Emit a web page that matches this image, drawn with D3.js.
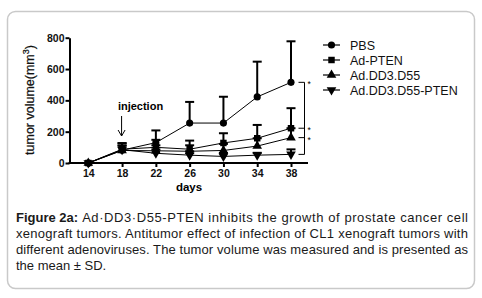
<!DOCTYPE html>
<html lang="en">
<head>
<meta charset="UTF-8">
<title>Figure 2a</title>
<script src="https://d3js.org/d3.v7.min.js"></script>
<style>
  body { margin: 0; background: #fff; }
</style>
</head>
<body>
<svg id="chart" width="482" height="298"></svg>
<script>
const days = [14, 18, 22, 26, 30, 34, 38];
const seriesNames = ["PBS", "Ad-PTEN", "Ad.DD3.D55", "Ad.DD3.D55-PTEN"];
const pbs = [0, 82, 130, 255, 255, 422, 515];
const pbsSD = [0, 45, 78, 135, 168, 225, 262];
const adPten = [0, 88, 100, 88, 128, 158, 222];
const adPtenSD = [0, 38, 48, 55, 62, 85, 128];
const dd3 = [0, 80, 78, 75, 80, 108, 162];
const dd3SD = [0, 32, 35, 38, 42, 50, 60];
const dd3Pten = [0, 85, 62, 50, 42, 50, 55];
const dd3PtenSD = [0, 25, 25, 25, 22, 15, 32];
const yTicks = [0, 200, 400, 600, 800];
const starred = [0, 1, 2];
const captionLines = [
  "Ad\u00b7DD3\u00b7D55-PTEN inhibits the growth of prostate cancer cell",
  "xenograft tumors. Antitumor effect of infection of CL1 xenograft tumors with",
  "different adenoviruses. The tumor volume was measured and is presented as",
  "the mean \u00b1 SD."
];

const font = "'Liberation Sans', Arial, sans-serif";
const svg = d3.select("#chart");

svg.append("rect")
  .attr("x", 7.5).attr("y", 11.5)
  .attr("width", 467).attr("height", 277)
  .attr("rx", 8)
  .attr("fill", "none").attr("stroke", "#c9c9c9").attr("stroke-width", 1.5);

const x = d3.scaleLinear().domain([14, 38]).range([88.3, 291]);
const y = d3.scaleLinear().domain([0, 800]).range([163, 37.7]);

// axes
const yAxis = svg.append("g")
  .attr("transform", "translate(69.5,0)")
  .call(d3.axisLeft(y).tickValues(yTicks).tickSize(4).tickSizeOuter(0));
const xAxis = svg.append("g")
  .attr("transform", "translate(0,163)")
  .call(d3.axisBottom(x).tickValues(days).tickSize(4).tickSizeOuter(0));
xAxis.select(".domain").attr("d", "M68.5,0H308");
[yAxis, xAxis].forEach(a => {
  a.selectAll("path, line").attr("stroke", "#000").attr("stroke-width", 2);
  a.selectAll("text")
    .attr("font-family", font).attr("font-size", 10.5).attr("font-weight", "bold")
    .attr("fill", "#111");
});
yAxis.selectAll("text").attr("x", -5);
xAxis.selectAll("text").attr("y", 7);

svg.append("text")
  .attr("x", 189).attr("y", 191)
  .attr("text-anchor", "middle")
  .attr("font-family", font).attr("font-size", 11.5).attr("font-weight", "bold")
  .text("days");

const yTitle = svg.append("text")
  .attr("transform", "translate(34,100) rotate(-90)")
  .attr("text-anchor", "middle")
  .attr("font-family", font).attr("font-size", 12.5).attr("fill", "#111")
  .attr("stroke", "#111").attr("stroke-width", 0.25);
yTitle.append("tspan").text("tumor volume(mm");
yTitle.append("tspan").attr("dy", -5).attr("font-size", 9).text("3");
yTitle.append("tspan").attr("dy", 5).text(")");

// injection label and arrow
svg.append("text")
  .attr("x", 140.5).attr("y", 110)
  .attr("text-anchor", "middle")
  .attr("font-family", font).attr("font-size", 11).attr("font-weight", "bold")
  .text("injection");
const ax = x(18) - 0.5;
svg.append("path")
  .attr("d", `M${ax},116V136M${ax - 3.5},130L${ax},136L${ax + 3.5},130`)
  .attr("fill", "none").attr("stroke", "#000").attr("stroke-width", 1);

const series = [
  { name: seriesNames[0], v: pbs, sd: pbsSD, sym: d3.symbolCircle, size: 40, rot: 0 },
  { name: seriesNames[1], v: adPten, sd: adPtenSD, sym: d3.symbolSquare, size: 42, rot: 0 },
  { name: seriesNames[2], v: dd3, sd: dd3SD, sym: d3.symbolTriangle, size: 40, rot: 0 },
  { name: seriesNames[3], v: dd3Pten, sd: dd3PtenSD, sym: d3.symbolTriangle, size: 40, rot: 180 }
];

const line = d3.line().x((d, i) => x(days[i])).y(d => y(d));

series.forEach(s => {
  const g = svg.append("g");
  // error bars (upper only)
  days.forEach((d, i) => {
    if (!s.sd[i]) return;
    const cx = x(d), top = y(s.v[i] + s.sd[i]);
    g.append("line").attr("x1", cx).attr("x2", cx)
      .attr("y1", y(s.v[i])).attr("y2", top)
      .attr("stroke", "#000").attr("stroke-width", 2);
    g.append("line").attr("x1", cx - 4.5).attr("x2", cx + 4.5)
      .attr("y1", top).attr("y2", top)
      .attr("stroke", "#000").attr("stroke-width", 2);
  });
  g.append("path").attr("d", line(s.v))
    .attr("fill", "none").attr("stroke", "#000").attr("stroke-width", 1);
  g.selectAll(".m").data(s.v).join("path")
    .attr("transform", (d, i) => `translate(${x(days[i])},${y(d)}) rotate(${s.rot})`)
    .attr("d", d3.symbol(s.sym, s.size))
    .attr("fill", "#000");
});

// significance bracket at day 38
const last = days.length - 1;
const bx = 304.5;
const levels = series.map(s => y(s.v[last]));
svg.append("line").attr("x1", bx).attr("x2", bx)
  .attr("y1", levels[0]).attr("y2", levels[3])
  .attr("stroke", "#000").attr("stroke-width", 1);
levels.forEach(ly => {
  svg.append("line").attr("x1", bx - 6).attr("x2", bx)
    .attr("y1", ly).attr("y2", ly)
    .attr("stroke", "#000").attr("stroke-width", 1);
});
starred.forEach(i => {
  svg.append("text")
    .attr("x", 307.5).attr("y", levels[i] + 5)
    .attr("font-family", font).attr("font-size", 8.5)
    .text("*");
});

// legend
const legend = svg.append("g").attr("transform", "translate(323,45)");
series.forEach((s, i) => {
  const row = legend.append("g").attr("transform", `translate(0,${i * 15})`);
  row.append("line").attr("x1", 0).attr("x2", 17)
    .attr("stroke", "#000").attr("stroke-width", 1.2);
  row.append("path")
    .attr("transform", `translate(8.5,0) rotate(${s.rot})`)
    .attr("d", d3.symbol(s.sym, s.size))
    .attr("fill", "#000");
  row.append("text")
    .attr("x", 27).attr("y", 4.5)
    .attr("font-family", font).attr("font-size", 12.5)
    .attr("fill", "#111")
    .text(s.name);
});

// caption, four justified lines
const capLeft = 16, capRight = 468, capTop = 221.5, capStep = 16.3;
const cap = svg.append("g")
  .attr("font-family", font).attr("font-size", 13).attr("fill", "#1a1a1a");
const fig = cap.append("text")
  .attr("x", capLeft).attr("y", capTop)
  .attr("font-weight", "bold")
  .text("Figure 2a:");
const figW = fig.node().getComputedTextLength() + 4;
captionLines.forEach((t, i) => {
  const x0 = i === 0 ? capLeft + figW : capLeft;
  const txt = cap.append("text")
    .attr("x", x0).attr("y", capTop + i * capStep)
    .text(t);
  if (i < captionLines.length - 1) {
    txt.attr("textLength", capRight - x0).attr("lengthAdjust", "spacing");
  }
});
</script>
</body>
</html>
